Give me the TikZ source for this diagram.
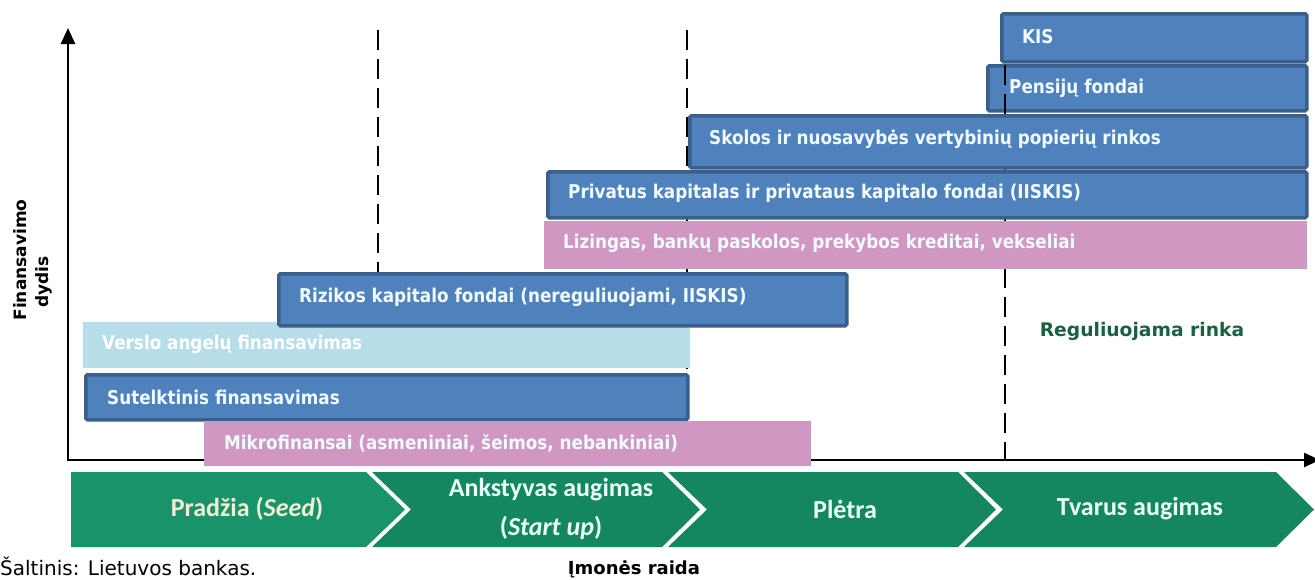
\documentclass[tikz,border=0pt]{standalone}
\usepackage{fontspec}
\setmainfont{DejaVu Sans}
\newfontfamily\boxfont{DejaVu Sans}[FakeStretch=0.885]
\newfontfamily\chevfont{Carlito}
\usetikzlibrary{arrows.meta}
\definecolor{bfill}{HTML}{4F81BD}
\definecolor{bline}{HTML}{3A5F8B}
\definecolor{pinkf}{HTML}{CF97C1}
\definecolor{lblue}{HTML}{B7DDE8}
\definecolor{btext}{HTML}{EFFBFF}
\definecolor{greenA}{HTML}{19936A}
\definecolor{greenB}{HTML}{148760}
\definecolor{chevtxtA}{HTML}{F2EDD5}
\definecolor{chevtxtB}{HTML}{EAFFF7}
\definecolor{regtxt}{HTML}{176240}
\tikzset{
  bluebox/.style={draw=bline, fill=bfill, line width=3.5pt, rounded corners=1.5pt, anchor=north west, inner sep=0pt},
  pinkbox/.style={fill=pinkf, draw=none, anchor=north west, inner sep=0pt},
  lbluebox/.style={fill=lblue, draw=none, anchor=north west, inner sep=0pt},
  btxt/.style={anchor=west, inner sep=0pt, text=btext, font=\boxfont\bfseries\fontsize{19}{22}\selectfont},
  chevtxt/.style={font=\chevfont\bfseries\fontsize{26}{39}\selectfont, align=center, inner sep=0pt},
  axisline/.style={line width=2.5pt, -{Triangle[length=16pt,width=14pt]}},
  dashline/.style={line width=2.5pt, dash pattern=on 20pt off 9pt},
  ylab/.style={rotate=90, font=\bfseries\fontsize{17}{20}\selectfont, inner sep=0pt}
}
\begin{document}
\begin{tikzpicture}[x=1pt,y=-1pt]
\useasboundingbox (0,0) rectangle (1315,579);
% coordinates
\coordinate (O) at (68,460);
\coordinate (ytop) at (68,28);
\coordinate (xend) at (1320,460);
\coordinate (d1t) at (378,30);
\coordinate (d1b) at (378,272);
\coordinate (d2t) at (687,30);
\coordinate (d2b) at (687,460);
\coordinate (d3t) at (1005,65);
\coordinate (d3b) at (1005,460);
% dashed lines behind
\draw[dashline] (d1t) -- (d1b);
\draw[dashline] (d2t) -- (d2b);
% axes
\draw[axisline] (O) -- (ytop);
\draw[axisline] ([xshift=-1.25pt]O) -- (xend);
% top boxes
\node[bluebox, minimum width=305pt, minimum height=48pt] (kis) at (1000,12) {};
\node[btxt] (kist) at (1022,37) {KIS};
\node[bluebox, minimum width=319pt, minimum height=45pt] (pens) at (986,64) {};
\node[btxt] (penst) at (1009,88) {Pensijų fondai};
\draw[dashline] (d3t) -- (d3b);
\node[bluebox, minimum width=617pt, minimum height=52pt] (skol) at (688,114) {};
\node[btxt] (skolt) at (709,139) {Skolos ir nuosavybės vertybinių popierių rinkos};
\node[bluebox, minimum width=759pt, minimum height=46pt] (priv) at (546,170) {};
\node[btxt] (privt) at (568,193) {Privatus kapitalas ir privataus kapitalo fondai (IISKIS)};
\node[pinkbox, minimum width=763pt, minimum height=48pt] (liz) at (544,221) {};
\node[btxt] (lizt) at (563,243) {Lizingas, bankų paskolos, prekybos kreditai, vekseliai};
\node[lbluebox, minimum width=607pt, minimum height=46pt] (vers) at (83,322) {};
\node[btxt, text=white] (verst) at (102,344) {Verslo angelų finansavimas};
\node[bluebox, minimum width=568pt, minimum height=52pt] (riz) at (277,272) {};
\node[btxt] (rizt) at (299,297) {Rizikos kapitalo fondai (nereguliuojami, IISKIS)};
\node[bluebox, minimum width=602pt, minimum height=45pt] (sut) at (84,373) {};
\node[btxt] (sutt) at (107,397) {Sutelktinis finansavimas};
\node[pinkbox, minimum width=607pt, minimum height=45pt] (mik) at (204,421) {};
\node[btxt] (mikt) at (224,443) {Mikrofinansai (asmeniniai, šeimos, nebankiniai)};
% regulated market label
\node[text=regtxt, font=\bfseries\fontsize{18.7}{22}\selectfont, inner sep=0pt] (reg) at (1142,331) {Reguliuojama rinka};
% y label
\node[ylab] (yl1) at (20,260) {Finansavimo};
\node[ylab] (yl2) at (44,282) {dydis};
% chevrons
\fill[greenA] (71,472) -- (366,472) -- (405,509.5) -- (366,547) -- (71,547) -- cycle;
\fill[greenB] (372,472) -- (662,472) -- (700,509.5) -- (662,547) -- (372,547) -- (411,509.5) -- cycle;
\fill[greenB] (668,472) -- (958,472) -- (996,509.5) -- (958,547) -- (668,547) -- (707,509.5) -- cycle;
\fill[greenB] (964,472) -- (1276,472) -- (1314,509.5) -- (1276,547) -- (964,547) -- (1003,509.5) -- cycle;
\node[chevtxt, text=chevtxtA] (c1) at (247,509) {Pradžia (\textit{Seed})};
\node[chevtxt, text=chevtxtB] (c2) at (551,509) {Ankstyvas augimas\\(\textit{Start up})};
\node[chevtxt, text=chevtxtB] (c3) at (845,509) {Plėtra};
\node[chevtxt, text=chevtxtB] (c4) at (1140,509) {Tvarus augimas};
% bottom texts
\node[anchor=base west, inner sep=0pt, font=\fontsize{20}{24}\selectfont] (src) at (0,575) {Šaltinis: Lietuvos bankas.};
\node[anchor=base, inner sep=0pt, font=\bfseries\fontsize{18}{22}\selectfont] (xl) at (634,574) {Įmonės raida};
\end{tikzpicture}
\end{document}
